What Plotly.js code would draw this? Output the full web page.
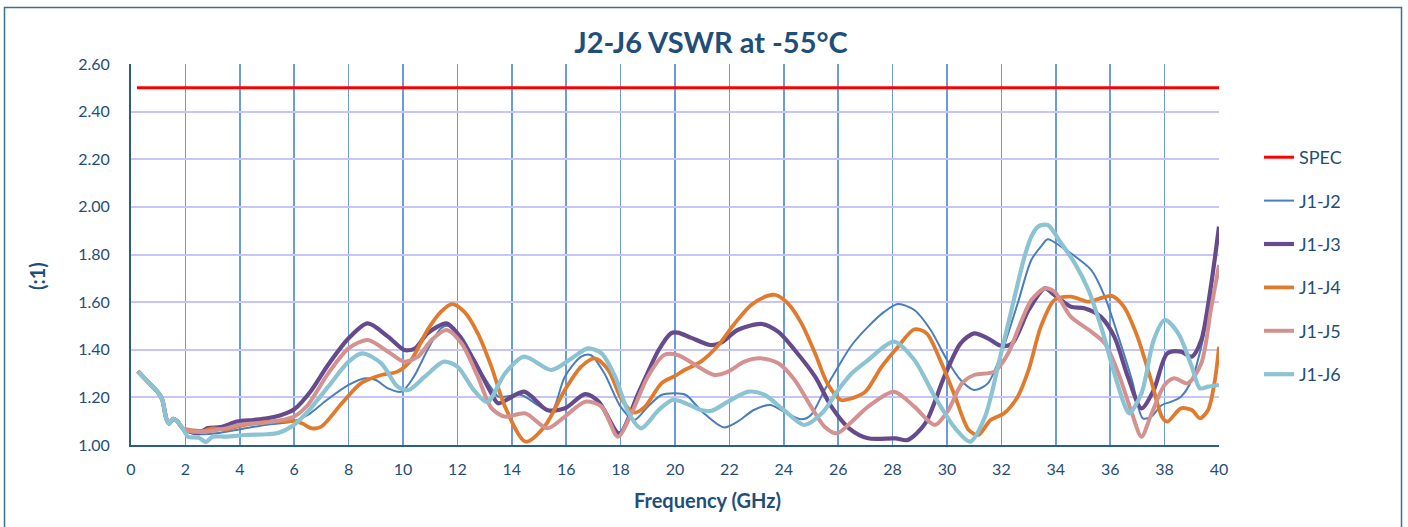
<!DOCTYPE html>
<html>
<head>
<meta charset="utf-8">
<script src="https://cdn.plot.ly/plotly-3.0.1.min.js"></script>
<style>
  html, body { margin: 0; padding: 0; background: #ffffff; }
  #chart { width: 1408px; height: 527px; }
</style>
</head>
<body>
<div id="chart"></div>
<script>
// ---- Data ----
const specX = [0.22, 40];
const specY = [2.5, 2.5];

const startX = [0.25, 0.5, 0.75, 1.0, 1.15, 1.3, 1.4, 1.55, 1.7, 1.9];
const startY = [1.31, 1.28, 1.25, 1.22, 1.19, 1.11, 1.09, 1.11, 1.10, 1.07];

const j2X = [2.2,2.7,3.2,3.7,4.2,5.0,6.0,6.5,7.2,8.0,8.6,9.0,9.45,9.95,10.4,10.9,11.4,11.65,12.15,12.75,13.3,13.5,14.35,14.95,15.45,15.95,16.55,16.9,17.4,18.0,18.5,19.0,19.5,20.0,20.4,21.0,21.8,22.3,22.9,23.5,24.0,24.65,25.0,25.5,26.0,26.5,27.1,27.7,28.2,28.8,29.4,30.0,30.5,31.0,31.5,32.0,32.6,33.1,33.5,33.7,34.2,34.8,35.3,35.8,36.3,36.8,37.2,37.5,37.9,38.25,38.6,39.0,39.35,39.7,40.0];
const j2Y = [1.05,1.045,1.05,1.06,1.07,1.085,1.10,1.126,1.189,1.252,1.28,1.273,1.238,1.224,1.287,1.399,1.49,1.50,1.455,1.329,1.231,1.203,1.21,1.168,1.14,1.287,1.371,1.378,1.301,1.161,1.105,1.161,1.21,1.217,1.21,1.14,1.074,1.098,1.147,1.168,1.14,1.108,1.126,1.231,1.329,1.42,1.497,1.56,1.592,1.567,1.483,1.357,1.273,1.231,1.259,1.385,1.595,1.777,1.84,1.864,1.833,1.784,1.735,1.623,1.455,1.273,1.112,1.119,1.168,1.182,1.203,1.273,1.413,1.609,1.72];

const j3X = [2.2,2.5,2.8,3.3,3.9,4.5,5.0,5.5,6.0,6.6,7.2,8.0,8.7,9.45,10.05,10.45,10.9,11.6,12.0,12.6,13.25,13.5,14.45,15.3,15.95,16.7,17.2,17.95,18.65,19.4,19.85,20.1,20.6,21.3,21.7,22.3,23.2,23.8,24.4,25.15,25.75,26.4,27.1,28.1,28.55,29.2,29.9,30.5,31.0,31.5,32.0,32.4,33.0,33.6,33.95,34.55,35.05,35.65,36.15,36.65,37.15,37.6,38.1,38.6,39.0,39.35,39.7,40.0];
const j3Y = [1.055,1.05,1.07,1.075,1.098,1.105,1.112,1.125,1.15,1.225,1.329,1.448,1.511,1.455,1.399,1.406,1.469,1.511,1.469,1.357,1.217,1.175,1.224,1.147,1.154,1.214,1.182,1.049,1.217,1.399,1.469,1.472,1.45,1.420,1.43,1.483,1.508,1.475,1.399,1.287,1.161,1.07,1.028,1.028,1.021,1.091,1.287,1.427,1.469,1.448,1.416,1.427,1.567,1.658,1.63,1.581,1.574,1.539,1.455,1.287,1.154,1.231,1.385,1.392,1.371,1.441,1.665,1.917];

const j4X = [2.1,2.4,2.7,3.0,3.5,4.0,4.8,5.5,6.0,6.3,6.65,7.0,7.75,8.45,9.2,9.8,10.3,10.9,11.4,11.8,12.25,12.75,13.25,13.75,14.5,15.2,15.95,16.55,17.05,17.55,18.05,18.5,18.9,19.5,20.0,20.35,20.95,21.6,22.2,22.8,23.4,23.7,24.15,24.65,25.15,25.6,26.1,26.5,27.0,27.6,28.2,28.8,29.25,29.8,30.3,30.8,31.15,31.6,32.1,32.6,33.0,33.45,33.95,34.55,35.2,35.6,36.05,36.5,37.0,37.5,37.9,38.1,38.6,39.0,39.3,39.6,39.85,40.0];
const j4Y = [1.065,1.06,1.06,1.07,1.065,1.08,1.095,1.10,1.10,1.09,1.07,1.077,1.175,1.259,1.294,1.308,1.357,1.483,1.56,1.592,1.56,1.469,1.329,1.161,1.014,1.077,1.231,1.329,1.364,1.315,1.189,1.136,1.161,1.259,1.29,1.315,1.35,1.42,1.511,1.588,1.626,1.63,1.595,1.511,1.385,1.259,1.189,1.196,1.224,1.329,1.413,1.486,1.469,1.343,1.203,1.063,1.042,1.105,1.133,1.203,1.315,1.497,1.609,1.623,1.602,1.615,1.626,1.581,1.455,1.273,1.119,1.098,1.154,1.147,1.112,1.147,1.273,1.413];

const j5X = [2.1,2.5,3.0,3.5,4.0,5.0,6.0,6.5,7.25,8.0,8.7,9.45,10.05,10.55,11.05,11.6,12.15,12.75,13.25,13.75,14.5,15.3,15.95,16.7,17.3,17.9,18.4,19.0,19.6,20.1,20.85,21.45,21.95,22.55,23.15,23.8,24.4,25.0,25.5,25.95,26.5,27.1,28.05,28.8,29.55,30.05,30.55,31.0,31.75,32.25,32.75,33.1,33.6,33.95,34.55,35.3,35.8,36.3,36.8,37.15,37.5,38.0,38.35,38.85,39.35,39.7,40.0];
const j5Y = [1.06,1.055,1.06,1.07,1.085,1.095,1.12,1.168,1.301,1.406,1.441,1.392,1.35,1.371,1.441,1.483,1.427,1.287,1.155,1.119,1.133,1.07,1.119,1.182,1.161,1.035,1.133,1.287,1.378,1.378,1.329,1.294,1.308,1.35,1.364,1.343,1.273,1.161,1.077,1.049,1.098,1.161,1.224,1.161,1.084,1.147,1.259,1.294,1.308,1.385,1.525,1.609,1.658,1.644,1.539,1.476,1.427,1.301,1.133,1.035,1.126,1.252,1.28,1.259,1.343,1.567,1.756];

const j6X = [2.1,2.5,2.75,3.0,3.5,4.2,5.0,5.4,6.0,6.5,7.25,8.0,8.5,9.2,9.8,10.2,10.8,11.5,12.0,12.6,13.1,13.75,14.45,15.45,16.2,16.8,17.3,17.8,18.3,18.75,19.4,19.9,20.25,20.95,21.35,21.95,22.7,23.3,24.0,24.75,25.4,26.0,26.5,27.1,28.05,28.8,29.55,30.3,30.85,31.4,31.9,32.4,32.85,33.1,33.35,33.7,34.2,34.7,35.2,35.7,36.15,36.55,36.7,37.15,37.6,38.0,38.5,39.0,39.3,39.6,40.0];
const j6Y = [1.035,1.03,1.012,1.035,1.035,1.042,1.045,1.05,1.085,1.14,1.245,1.35,1.385,1.343,1.245,1.231,1.287,1.35,1.329,1.231,1.18,1.301,1.371,1.315,1.364,1.406,1.385,1.287,1.133,1.07,1.147,1.189,1.182,1.147,1.144,1.182,1.224,1.21,1.147,1.084,1.133,1.231,1.301,1.357,1.434,1.357,1.203,1.07,1.014,1.119,1.343,1.581,1.791,1.875,1.917,1.924,1.847,1.763,1.651,1.483,1.301,1.161,1.133,1.217,1.441,1.525,1.469,1.329,1.238,1.245,1.252];

const seriesNames = ['SPEC', 'J1-J2', 'J1-J3', 'J1-J4', 'J1-J5', 'J1-J6'];
const seriesColors = ['#ff0000', '#4a7ebb', '#664b8c', '#e07b2e', '#d39290', '#8bc3d3'];
const seriesWidths = [3, 2, 4.2, 3.8, 4, 4.2];

// ---- Build traces ----
const xs = [specX, startX.concat(j2X), startX.concat(j3X), startX.concat(j4X), startX.concat(j5X), startX.concat(j6X)];
const ys = [specY, startY.concat(j2Y), startY.concat(j3Y), startY.concat(j4Y), startY.concat(j5Y), startY.concat(j6Y)];

const textColor = '#1f4e79';
const traces = seriesNames.map((name, i) => ({
  type: 'scatter',
  mode: 'lines',
  name: name,
  legendgroup: 'g' + i,
  x: xs[i],
  y: ys[i],
  line: { color: seriesColors[i], width: seriesWidths[i], shape: i === 0 ? 'linear' : 'spline', smoothing: 0.8 },
  hoverinfo: 'x+y+name'
}));

const plotL = 131, plotR = 1219, plotT = 64, plotB = 445;
const pw = plotR - plotL, ph = plotB - plotT;
const px = (p) => (p - plotL) / pw;
const py = (p) => (plotB - p) / ph;

const layout = {
  width: 1408,
  height: 527,
  margin: { l: plotL, r: 1408 - plotR, t: plotT, b: 527 - plotB, pad: 0 },
  paper_bgcolor: '#ffffff',
  plot_bgcolor: '#ffffff',
  font: { family: 'Lato, "Open Sans", sans-serif', color: textColor, size: 16 },
  title: {
    text: '<b>J2-J6 VSWR at -55°C</b>',
    font: { family: 'Lato, sans-serif', size: 29, color: textColor },
    xref: 'container', x: 711 / 1408, xanchor: 'center',
    yref: 'container', y: 1 - 43 / 527, yanchor: 'middle'
  },
  xaxis: {
    range: [0, 40],
    tick0: 0, dtick: 2,
    showgrid: true, gridcolor: '#6c9ade', gridwidth: 1.5,
    zeroline: false,
    showline: true, linecolor: '#2b5d88', linewidth: 2,
    ticks: '', ticklabelstandoff: 9,
    tickfont: { family: 'Lato, sans-serif', size: 16, color: textColor },
    fixedrange: true
  },
  yaxis: {
    range: [1, 2.6],
    tick0: 1, dtick: 0.2, tickformat: '.2f',
    showgrid: true, gridcolor: '#c5c5f7', gridwidth: 2,
    zeroline: false,
    showline: true, linecolor: '#2b5d88', linewidth: 2,
    ticks: '', ticklabelstandoff: 16,
    tickfont: { family: 'Lato, sans-serif', size: 16, color: textColor },
    fixedrange: true
  },
  showlegend: true,
  legend: {
    x: px(1259), xanchor: 'left',
    y: py(139), yanchor: 'top',
    traceorder: 'grouped',
    tracegroupgap: 17,
    font: { family: 'Lato, sans-serif', size: 18, color: textColor },
    bgcolor: 'rgba(0,0,0,0)',
    borderwidth: 0
  },
  annotations: [
    {
      text: '<b>Frequency (GHz)</b>', showarrow: false,
      xref: 'paper', yref: 'paper', x: px(707), y: py(500),
      xanchor: 'center', yanchor: 'middle',
      font: { family: 'Lato, sans-serif', size: 20, color: textColor }
    },
    {
      text: '<b>(:1)</b>', showarrow: false, textangle: -90,
      xref: 'paper', yref: 'paper', x: px(37), y: py(276),
      xanchor: 'center', yanchor: 'middle',
      font: { family: 'Lato, sans-serif', size: 20, color: textColor }
    }
  ],
  shapes: [
    {
      type: 'rect', xref: 'paper', yref: 'paper', layer: 'above',
      x0: px(4.5), x1: px(1401.5), y0: py(540), y1: py(7.5),
      line: { color: '#3d6f92', width: 1.5 }, fillcolor: 'rgba(0,0,0,0)'
    }
  ]
};

Plotly.newPlot('chart', traces, layout, { displayModeBar: false, staticPlot: true });
</script>
</body>
</html>
